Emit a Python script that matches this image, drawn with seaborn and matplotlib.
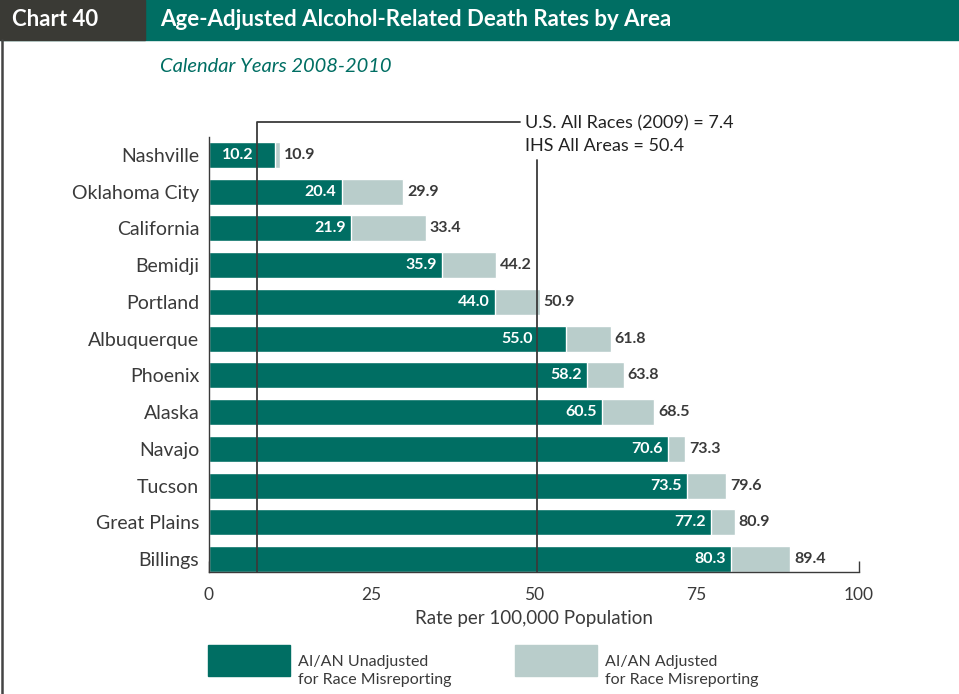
import matplotlib
matplotlib.use("Agg")
import matplotlib.pyplot as plt
from matplotlib.patches import Rectangle
from matplotlib.lines import Line2D
import seaborn as sns
import pandas as pd

areas = ["Nashville", "Oklahoma City", "California", "Bemidji", "Portland",
         "Albuquerque", "Phoenix", "Alaska", "Navajo", "Tucson",
         "Great Plains", "Billings"]
unadjusted = [10.2, 20.4, 21.9, 35.9, 44.0, 55.0, 58.2, 60.5, 70.6, 73.5, 77.2, 80.3]
adjusted = [10.9, 29.9, 33.4, 44.2, 50.9, 61.8, 63.8, 68.5, 73.3, 79.6, 80.9, 89.4]
us_all_races = 7.4
ihs_all_areas = 50.4
x_ticks = [0, 25, 50, 75, 100]

DARK = "#006e63"
LIGHT = "#b9cdcb"
INK = "#3a3a3a"
HEADER_GRAY = "#3a3a35"

sns.set_theme(style="white")
plt.rcParams["font.family"] = ["Lato", "DejaVu Sans"]

df = pd.DataFrame({"area": areas, "unadjusted": unadjusted, "adjusted": adjusted})

fig = plt.figure(figsize=(9.59, 6.94), dpi=100)
ax = fig.add_axes([0.2179, 0.1758, 0.6778, 0.6268])

sns.barplot(data=df, y="area", x="adjusted", color=LIGHT, width=0.71,
            saturation=1, ax=ax, orient="h")
sns.barplot(data=df, y="area", x="unadjusted", color=DARK, width=0.71,
            saturation=1, ax=ax, orient="h")

ax.set_xlim(0, 100)
ax.set_ylim(11.354, -0.49)
ax.set_xticks(x_ticks)
ax.set_xticklabels([str(t) for t in x_ticks], fontsize=12.5, color=INK)
ax.set_xlabel("Rate per 100,000 Population", fontsize=13.5, color=INK, labelpad=5)
ax.set_ylabel("")
ax.tick_params(axis="y", length=0, labelsize=14, labelcolor=INK, pad=7)
ax.tick_params(axis="x", direction="in", length=8, width=1, color=INK, pad=11,
               bottom=True)
for side in ["top", "right"]:
    ax.spines[side].set_visible(False)
for side in ["left", "bottom"]:
    ax.spines[side].set_color(INK)
    ax.spines[side].set_linewidth(1)

# value labels; white labels step left of a reference line they would cross
label_w = 4.8
for i, (u, a) in enumerate(zip(unadjusted, adjusted)):
    right = u - 0.8
    for ref in (us_all_races, ihs_all_areas):
        if right - label_w < ref < right + 0.3:
            right = ref - 0.6
    ax.text(right, i, f"{u:.1f}", ha="right", va="center", color="white",
            fontsize=11.5, fontweight="bold", zorder=6)
    ax.text(a + 0.6, i, f"{a:.1f}", ha="left", va="center", color=INK,
            fontsize=11.5, fontweight="bold")

# reference lines with leader lines to the note
ax.plot([us_all_races, us_all_races, 47.9], [11.354, -0.9, -0.9],
        color=INK, lw=1.3, clip_on=False, zorder=5)
ax.plot([ihs_all_areas, ihs_all_areas], [11.354, 0.14],
        color=INK, lw=1.3, clip_on=False, zorder=5)
ax.text(48.6, -0.85, f"U.S. All Races (2009) = {us_all_races}", ha="left",
        va="center", fontsize=13, color="#222222")
ax.text(48.6, -0.25, f"IHS All Areas = {ihs_all_areas}", ha="left",
        va="center", fontsize=13, color="#222222")

# header band
W, H = 959, 694
def fx(px):
    return px / W
def fy(py):
    return 1 - py / H

fig.add_artist(Rectangle((0, fy(40)), 1, 40 / H, transform=fig.transFigure,
                         color=DARK, zorder=0))
fig.add_artist(Rectangle((0, fy(40)), fx(145), 40 / H, transform=fig.transFigure,
                         color=HEADER_GRAY, zorder=1))
fig.text(fx(12), fy(19), "Chart 40", color="white", fontsize=16,
         fontweight="bold", va="center", ha="left")
fig.text(fx(160), fy(19), "Age-Adjusted Alcohol-Related Death Rates by Area",
         color="white", fontsize=16, fontweight="bold", va="center", ha="left")
fig.text(fx(160), fy(66), "Calendar Years 2008-2010", color=DARK,
         fontsize=14.5, fontstyle="italic", va="center", ha="left")
fig.add_artist(Line2D([fx(1.5), fx(1.5)], [0, fy(40)], transform=fig.transFigure,
                      color="#444444", lw=1.8))

# legend
for x0, color, line1, line2 in [
    (208, DARK, "AI/AN Unadjusted", "for Race Misreporting"),
    (515, LIGHT, "AI/AN Adjusted", "for Race Misreporting"),
]:
    fig.add_artist(Rectangle((fx(x0), fy(676)), 82 / W, 31 / H,
                             transform=fig.transFigure, color=color))
    fig.text(fx(x0 + 90), fy(662), line1, fontsize=11.5, color=INK,
             va="center", ha="left")
    fig.text(fx(x0 + 90), fy(680), line2, fontsize=11.5, color=INK,
             va="center", ha="left")

fig.savefig("out.png", dpi=100)
